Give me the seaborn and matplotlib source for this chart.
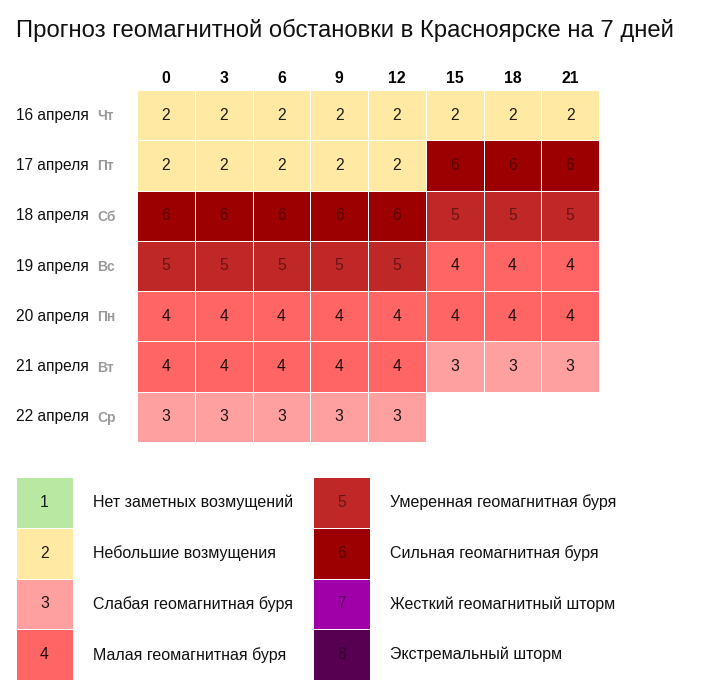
import numpy as np
import pandas as pd
import matplotlib
matplotlib.use("Agg")
import matplotlib.pyplot as plt
from matplotlib.colors import ListedColormap, BoundaryNorm
from matplotlib.transforms import blended_transform_factory
import seaborn as sns

sns.set_theme(style="white")
plt.rcParams['font.family'] = ['Liberation Sans', 'DejaVu Sans']

title = "Прогноз геомагнитной обстановки в Красноярске на 7 дней"
hours = ["0", "3", "6", "9", "12", "15", "18", "21"]
dates = ["16 апреля", "17 апреля", "18 апреля", "19 апреля", "20 апреля", "21 апреля", "22 апреля"]
weekdays = ["Чт", "Пт", "Сб", "Вс", "Пн", "Вт", "Ср"]
values = [
    [2, 2, 2, 2, 2, 2, 2, 2],
    [2, 2, 2, 2, 2, 6, 6, 6],
    [6, 6, 6, 6, 6, 5, 5, 5],
    [5, 5, 5, 5, 5, 4, 4, 4],
    [4, 4, 4, 4, 4, 4, 4, 4],
    [4, 4, 4, 4, 4, 3, 3, 3],
    [3, 3, 3, 3, 3, np.nan, np.nan, np.nan],
]
levels = [1, 2, 3, 4, 5, 6, 7, 8]
level_names = [
    "Нет заметных возмущений",
    "Небольшие возмущения",
    "Слабая геомагнитная буря",
    "Малая геомагнитная буря",
    "Умеренная геомагнитная буря",
    "Сильная геомагнитная буря",
    "Жесткий геомагнитный шторм",
    "Экстремальный шторм",
]
level_colors = ["#b9e8a3", "#ffe9a3", "#ffa0a0", "#ff6565",
                "#c02727", "#9c0000", "#a000a8", "#570052"]

cmap = ListedColormap(level_colors)
norm = BoundaryNorm(np.arange(0.5, 9.5, 1), cmap.N)

W, H = 724, 689
fig = plt.figure(figsize=(W / 100, H / 100), dpi=100)

def ax_px(x0, y0, x1, y1):
    return fig.add_axes([x0 / W, 1 - y1 / H, (x1 - x0) / W, (y1 - y0) / H])

df = pd.DataFrame(values, index=dates, columns=hours)
ax = ax_px(137, 90, 599, 442)
sns.heatmap(df, ax=ax, cmap=cmap, norm=norm, cbar=False, linewidths=0.7,
            linecolor="white", annot=False, square=False)
for i, row in enumerate(values):
    for j, v in enumerate(row):
        if np.isnan(v):
            continue
        a = 0.88 if v <= 4 else 0.45
        ax.text(j + 0.5, i + 0.5, f"{int(v)}", ha="center", va="center",
                fontsize=11.3, color="#000000", alpha=a)
ax.xaxis.tick_top()
ax.set_xticks(np.arange(len(hours)) + 0.5)
ax.set_xticklabels(hours, fontsize=11.3, fontweight="bold", color="#000000")
ax.tick_params(axis="x", length=0, pad=3)
ax.set_yticks([])
ax.set_xlabel("")
ax.set_ylabel("")
tr = blended_transform_factory(fig.transFigure, ax.transData)
for i, (d, wd) in enumerate(zip(dates, weekdays)):
    ax.text(16 / W, i + 0.5, d, transform=tr, ha="left", va="center",
            fontsize=11.2, color="#111111")
    ax.text(97 / W, i + 0.52, wd, transform=tr, ha="left", va="center",
            fontsize=10, color="#9a9a9a", fontweight="bold")

fig.text(16 / W, 1 - 30 / H, title, ha="left", va="center", fontsize=17.2,
         color="#111111")

# legend
for k, (x0, tx) in enumerate([(16, 93), (313, 390)]):
    lv = levels[4 * k:4 * k + 4]
    lax = ax_px(x0, 477, x0 + 57, 680)
    ldf = pd.DataFrame({"v": lv})
    sns.heatmap(ldf, ax=lax, cmap=cmap, norm=norm, cbar=False, linewidths=0.7,
                linecolor="white")
    lax.set_xticks([])
    lax.set_yticks([])
    lax.set_xlabel("")
    lax.set_ylabel("")
    ltr = blended_transform_factory(fig.transFigure, lax.transData)
    for i, v in enumerate(lv):
        a = 0.88 if v <= 4 else 0.45
        lax.text(0.5, i + 0.5, str(v), ha="center", va="center", fontsize=11.3,
                 color="#000000", alpha=a)
        lax.text(tx / W, i + 0.5, level_names[v - 1], transform=ltr,
                 ha="left", va="center", fontsize=11.5, color="#111111")

fig.savefig("out.png", dpi=100, facecolor="white")
